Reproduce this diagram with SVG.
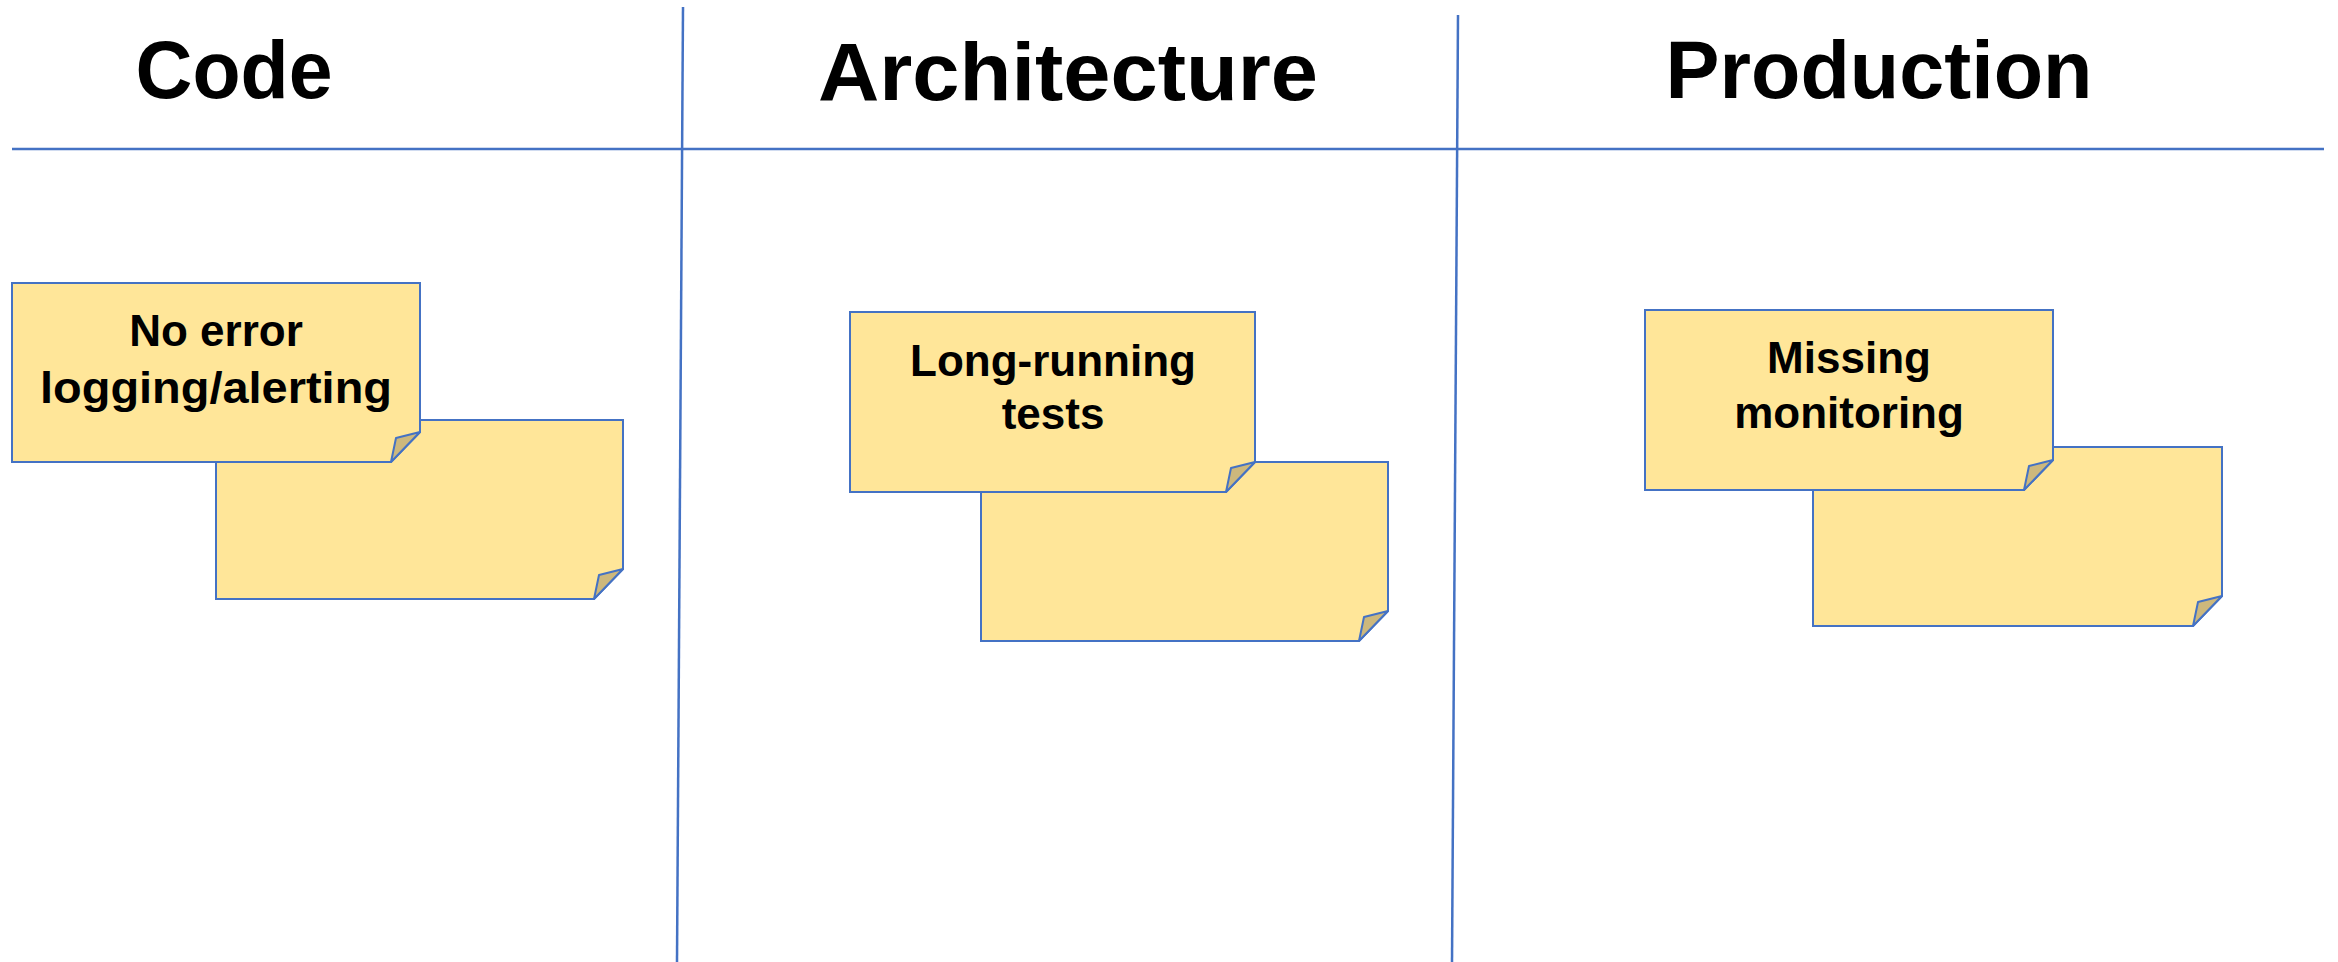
<svg xmlns="http://www.w3.org/2000/svg" width="2338" height="962" viewBox="0 0 2338 962">
<style>
.line{stroke:#4472C4;stroke-width:2.5;fill:none}
.note{fill:#FFE699;stroke:#4472C4;stroke-width:2}
.flap{fill:#CDB87C;stroke:#4472C4;stroke-width:2;stroke-linejoin:round}
.hdr{font-family:"Liberation Sans",Arial,sans-serif;font-weight:bold;font-size:82px;fill:#000;text-anchor:middle}
.lbl{font-family:"Liberation Sans",Arial,sans-serif;font-weight:bold;font-size:44px;fill:#000;text-anchor:middle}
</style>
<rect width="2338" height="962" fill="#fff"/>
<g id="grid">
<line class="line" x1="12" y1="149" x2="2324" y2="149"/>
<line class="line" x1="683" y1="7" x2="677" y2="962"/>
<line class="line" x1="1458" y1="15" x2="1452" y2="962"/>
</g>
<g id="headers">
<text class="hdr" x="234" y="98" textLength="197" lengthAdjust="spacingAndGlyphs">Code</text>
<text class="hdr" x="1068" y="100" textLength="500" lengthAdjust="spacingAndGlyphs">Architecture</text>
<text class="hdr" x="1879" y="98" textLength="427" lengthAdjust="spacingAndGlyphs">Production</text>
</g>
<g id="note-code-back">
<path class="note" d="M216,420 H623 V569 L594,599 H216 Z"/>
<path class="flap" d="M623,569 L599,575 L594,599 Z"/>
</g>
<g id="note-code">
<path class="note" d="M12,283 H420 V432 L391,462 H12 Z"/>
<path class="flap" d="M420,432 L396,438 L391,462 Z"/>
<text class="lbl" x="216" y="346">No error</text>
<text class="lbl" x="216" y="403" textLength="352" lengthAdjust="spacingAndGlyphs">logging/alerting</text>
</g>
<g id="note-arch-back">
<path class="note" d="M981,462 H1388 V611 L1359,641 H981 Z"/>
<path class="flap" d="M1388,611 L1364,617 L1359,641 Z"/>
</g>
<g id="note-arch">
<path class="note" d="M850,312 H1255 V462 L1226,492 H850 Z"/>
<path class="flap" d="M1255,462 L1231,468 L1226,492 Z"/>
<text class="lbl" x="1053" y="376">Long-running</text>
<text class="lbl" x="1053" y="429">tests</text>
</g>
<g id="note-prod-back">
<path class="note" d="M1813,447 H2222 V596 L2193,626 H1813 Z"/>
<path class="flap" d="M2222,596 L2198,602 L2193,626 Z"/>
</g>
<g id="note-prod">
<path class="note" d="M1645,310 H2053 V460 L2024,490 H1645 Z"/>
<path class="flap" d="M2053,460 L2029,466 L2024,490 Z"/>
<text class="lbl" x="1849" y="373">Missing</text>
<text class="lbl" x="1849" y="428">monitoring</text>
</g>
</svg>
